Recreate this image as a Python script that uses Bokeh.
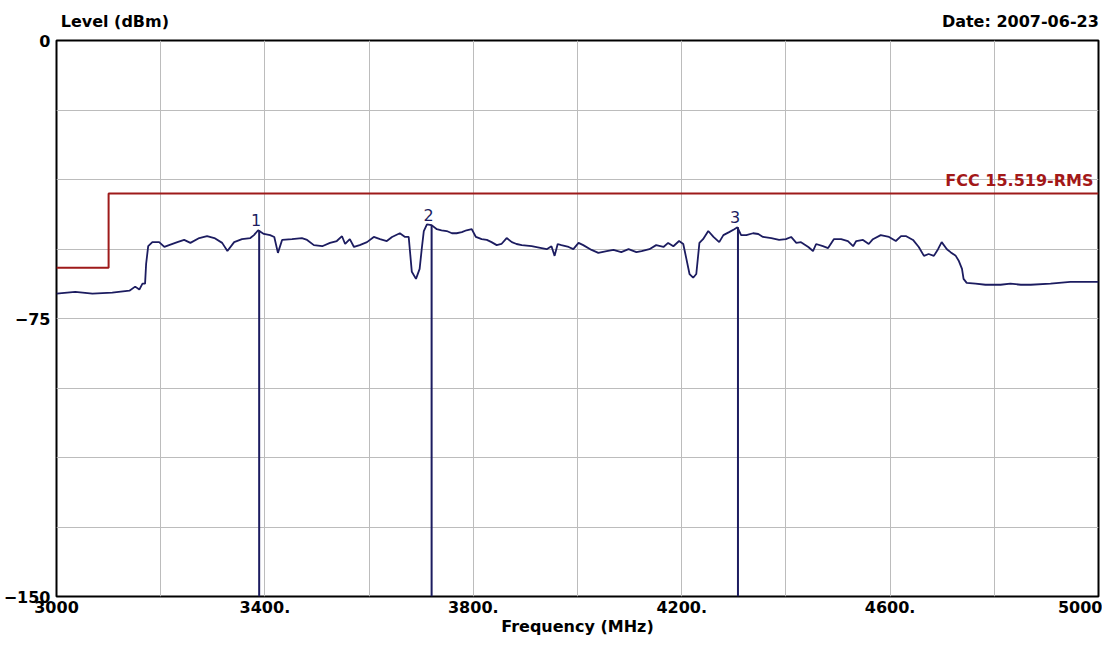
from bokeh.plotting import figure
from bokeh.models import Range1d, FixedTicker, LinearAxis, ColumnDataSource
from bokeh.core.properties import value
from bokeh.embed import file_html
from bokeh.resources import INLINE

# ---- data ----
trace_freq = [3000, 3036, 3069, 3107, 3140, 3151, 3159, 3165, 3170, 3172, 3176, 3184, 3197, 3207,
              3216, 3232, 3245, 3257, 3274, 3289, 3303, 3318, 3328, 3341, 3356, 3372, 3379, 3387,
              3398, 3410, 3418, 3425, 3433, 3452, 3471, 3481, 3494, 3510, 3525, 3538, 3548, 3554,
              3563, 3571, 3582, 3596, 3609, 3621, 3634, 3644, 3659, 3669, 3676, 3682, 3690, 3697,
              3701, 3705, 3711, 3720, 3730, 3739, 3749, 3759, 3768, 3778, 3787, 3797, 3805, 3816,
              3826, 3835, 3845, 3854, 3864, 3874, 3883, 3893, 3912, 3931, 3941, 3950, 3956, 3962,
              3969, 3983, 3992, 4002, 4011, 4027, 4040, 4056, 4069, 4084, 4098, 4113, 4123, 4138,
              4151, 4165, 4174, 4184, 4195, 4203, 4209, 4215, 4222, 4228, 4234, 4241, 4251, 4261,
              4272, 4280, 4291, 4301, 4307, 4314, 4324, 4337, 4347, 4356, 4372, 4387, 4400, 4410,
              4420, 4429, 4443, 4452, 4458, 4471, 4481, 4492, 4506, 4519, 4529, 4535, 4548, 4559,
              4567, 4582, 4598, 4611, 4621, 4631, 4644, 4655, 4665, 4674, 4684, 4692, 4699, 4709,
              4716, 4726, 4732, 4738, 4741, 4747, 4764, 4783, 4812, 4831, 4851, 4870, 4908, 4946,
              5000]
trace_level = [-68.3, -67.8, -68.3, -68.0, -67.5, -66.4, -67.2, -65.6, -65.6, -60.3, -55.5, -54.4, -54.4, -55.7,
               -55.2, -54.4, -53.8, -54.6, -53.3, -52.8, -53.3, -54.6, -56.8, -54.4, -53.6, -53.3, -52.5, -51.2,
               -52.2, -52.5, -53.0, -57.3, -53.8, -53.6, -53.3, -53.8, -55.2, -55.5, -54.6, -54.1, -52.8, -54.9,
               -53.6, -55.7, -55.2, -54.4, -53.0, -53.6, -54.1, -53.0, -52.0, -53.0, -53.0, -62.4, -64.3, -61.6,
               -56.3, -51.4, -49.6, -49.8, -50.9, -51.2, -51.4, -52.0, -52.0, -51.7, -51.2, -50.9, -53.0, -53.6,
               -53.8, -54.4, -55.2, -54.9, -53.3, -54.4, -54.9, -55.2, -55.5, -56.0, -56.3, -55.5, -58.1, -54.9,
               -55.2, -55.7, -56.3, -54.6, -55.2, -56.5, -57.3, -56.8, -56.5, -57.1, -56.3, -57.1, -56.8, -56.3,
               -55.2, -55.7, -54.6, -55.5, -54.1, -54.9, -58.9, -63.0, -64.0, -63.0, -54.6, -53.6, -51.4, -53.0,
               -54.4, -52.5, -51.7, -50.9, -50.4, -52.5, -52.5, -52.0, -52.2, -53.0, -53.3, -53.8, -53.6, -53.0,
               -54.6, -54.4, -55.7, -56.8, -54.9, -55.5, -56.0, -53.6, -53.6, -54.1, -55.5, -54.1, -53.8, -54.9,
               -53.6, -52.5, -53.0, -54.1, -52.8, -52.8, -53.8, -55.7, -58.1, -57.6, -58.1, -56.3, -54.4, -56.3,
               -57.1, -58.1, -59.5, -61.6, -64.3, -65.4, -65.6, -65.9, -65.9, -65.6, -65.9, -65.9, -65.6, -65.1,
               -65.1]

limit_freq = [3000, 3100, 3100, 5000]
limit_level = [-61.3, -61.3, -41.3, -41.3]
limit_name = "FCC 15.519-RMS"

marker_freq = [3389, 3720, 4308]
marker_level = [-51.2, -49.8, -50.4]
marker_names = ["1", "2", "3"]

x_ticks = [3000, 3400, 3800, 4200, 4600, 5000]
x_tick_labels = ["3000", "3400.", "3800.", "4200.", "4600.", "5000"]
y_ticks = [0, -75, -150]
x_grid = [3000, 3200, 3400, 3600, 3800, 4000, 4200, 4400, 4600, 4800, 5000]
y_grid = [0, -18.75, -37.5, -56.25, -75, -93.75, -112.5, -131.25, -150]

y_title = "Level (dBm)"
date_text = "Date: 2007-06-23"
x_title = "Frequency (MHz)"

FONT = "DejaVu Sans"
NAVY = "#1c1c60"
RED = "#9e1a1a"

# header texts sit centred over these x positions (layout anchors, not data)
HEADER_X = [3112, 4850]

p = figure(width=1102, height=639, output_backend="svg", toolbar_location=None,
           x_range=Range1d(3000, 5000), y_range=Range1d(-150, 0),
           min_border_left=54, min_border_right=4, min_border_top=40, min_border_bottom=43)
p.background_fill_color = "white"
p.border_fill_color = "white"
p.outline_line_color = "black"
p.outline_line_width = 2

bottom_axis = p.xaxis[0]
left_axis = p.yaxis[0]

p.xgrid.ticker = FixedTicker(ticks=x_grid)
p.ygrid.ticker = FixedTicker(ticks=y_grid)
for g in (p.xgrid, p.ygrid):
    g.grid_line_color = "#bcbcbc"
    g.grid_line_width = 1

bottom_axis.ticker = FixedTicker(ticks=x_ticks)
bottom_axis.major_label_overrides = {t: l for t, l in zip(x_ticks, x_tick_labels)}
left_axis.ticker = FixedTicker(ticks=y_ticks)

# header line: "Level (dBm)" at left, date at right
top_axis = LinearAxis(ticker=FixedTicker(ticks=HEADER_X),
                      major_label_overrides={HEADER_X[0]: y_title, HEADER_X[1]: date_text})
p.add_layout(top_axis, "above")

for ax in (bottom_axis, left_axis, top_axis):
    ax.axis_line_color = None
    ax.major_tick_line_color = None
    ax.minor_tick_line_color = None
    ax.major_tick_out = 0
    ax.major_tick_in = 0
    ax.major_label_text_font = FONT
    ax.major_label_text_font_style = "bold"
    ax.major_label_text_font_size = "16px"
    ax.major_label_text_color = "black"
top_axis.major_label_standoff = 10
bottom_axis.major_label_standoff = 4
left_axis.major_label_standoff = 6
bottom_axis.axis_label = x_title
bottom_axis.axis_label_text_font = FONT
bottom_axis.axis_label_text_font_style = "bold"
bottom_axis.axis_label_text_font_size = "16px"
bottom_axis.axis_label_text_color = "black"
bottom_axis.axis_label_standoff = 1

# limit line
p.line(limit_freq, limit_level, line_color=RED, line_width=2)
p.text(x=[limit_freq[-1]], y=[limit_level[-1]], text=[limit_name], text_font=value(FONT),
       text_font_style="bold", text_font_size="16px", text_color="#a31818",
       text_align="right", text_baseline="bottom", x_offset=-5, y_offset=-4)

# trace
p.line(trace_freq, trace_level, line_color=NAVY, line_width=1.8)

# markers
msrc = ColumnDataSource(dict(f=marker_freq, lv=marker_level, bottom=[-150] * 3, name=marker_names))
p.segment(x0="f", y0="bottom", x1="f", y1="lv", source=msrc, line_color=NAVY, line_width=2)
p.text(x="f", y="lv", text="name", source=msrc, text_font=value(FONT), text_font_size="16px",
       text_color=NAVY, text_align="center", text_baseline="bottom", x_offset=-3, y_offset=-4)

open("out.html", "w").write(file_html(p, INLINE))
